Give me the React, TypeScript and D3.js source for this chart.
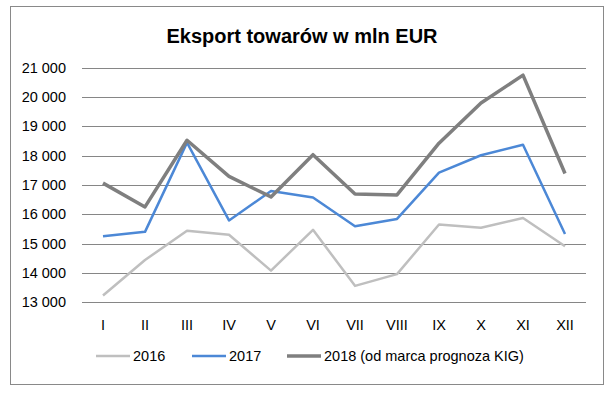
import React from 'react';
import * as d3 from 'd3';

const months = ['I', 'II', 'III', 'IV', 'V', 'VI', 'VII', 'VIII', 'IX', 'X', 'XI', 'XII'];
const yTicks = [13000, 14000, 15000, 16000, 17000, 18000, 19000, 20000, 21000];

const values2016 = [13230, 14440, 15440, 15300, 14080, 15470, 13560, 13960, 15650, 15540, 15870, 14910];
const values2017 = [15250, 15400, 18440, 15790, 16790, 16570, 15590, 15840, 17420, 18010, 18370, 15330];
const values2018 = [17060, 16250, 18520, 17290, 16590, 18030, 16690, 16660, 18420, 19790, 20740, 17390];

const seriesNames = ['2016', '2017', '2018 (od marca prognoza KIG)'];
const seriesColors = ['#BFBFBF', '#4C88D6', '#7F7F7F'];
const seriesWidths = [2.5, 2.5, 3.5];

const W = 616;
const H = 393;
const margin = { top: 67.5, right: 30, bottom: 90.7, left: 82 };

const App: React.FC = () => {
  const x = d3
    .scaleBand()
    .domain(months)
    .range([margin.left, W - margin.right]);
  const y = d3
    .scaleLinear()
    .domain([13000, 21000])
    .range([H - margin.bottom, margin.top]);

  const fmt = (v: number) => d3.format(',')(v).replace(',', ' ');
  const line = d3
    .line<number>()
    .x((_, i) => x(months[i])! + x.bandwidth() / 2)
    .y(d => y(d));

  const allSeries = [values2016, values2017, values2018];
  const font = "'Liberation Sans', Arial, sans-serif";

  // legend layout
  const legendX = [96, 192, 287];

  return (
    <svg width={W} height={H} style={{ position: 'absolute', left: 0, top: 0, background: '#fff' }} fontFamily={font}>
      <rect x={10.5} y={6.5} width={593} height={378} fill="#fff" stroke="#898989" strokeWidth={1} />
      <text x={302} y={43} textAnchor="middle" fontSize={20} fontWeight="bold" fill="#000">
        Eksport towarów  w mln EUR
      </text>

      {yTicks.map(t => (
        <g key={t}>
          <line x1={margin.left} x2={W - margin.right} y1={Math.round(y(t)) + 0.5} y2={Math.round(y(t)) + 0.5} stroke="#868686" strokeWidth={1} />
          <text x={66} y={y(t)} dy="0.35em" textAnchor="end" fontSize={14.5} fill="#000">
            {fmt(t)}
          </text>
        </g>
      ))}

      {months.map(m => (
        <text key={m} x={x(m)! + x.bandwidth() / 2} y={325} dy="0.35em" textAnchor="middle" fontSize={14.5} fill="#000">
          {m}
        </text>
      ))}

      {allSeries.map((s, i) => (
        <path key={i} d={line(s) || ''} fill="none" stroke={seriesColors[i]} strokeWidth={seriesWidths[i]} strokeLinejoin="round" />
      ))}

      {seriesNames.map((n, i) => (
        <g key={n}>
          <line x1={legendX[i]} x2={legendX[i] + 34} y1={356} y2={356} stroke={seriesColors[i]} strokeWidth={seriesWidths[i]} />
          <text x={legendX[i] + 37} y={356} dy="0.35em" fontSize={14.5} fill="#000">
            {n}
          </text>
        </g>
      ))}
    </svg>
  );
};

export default App;
